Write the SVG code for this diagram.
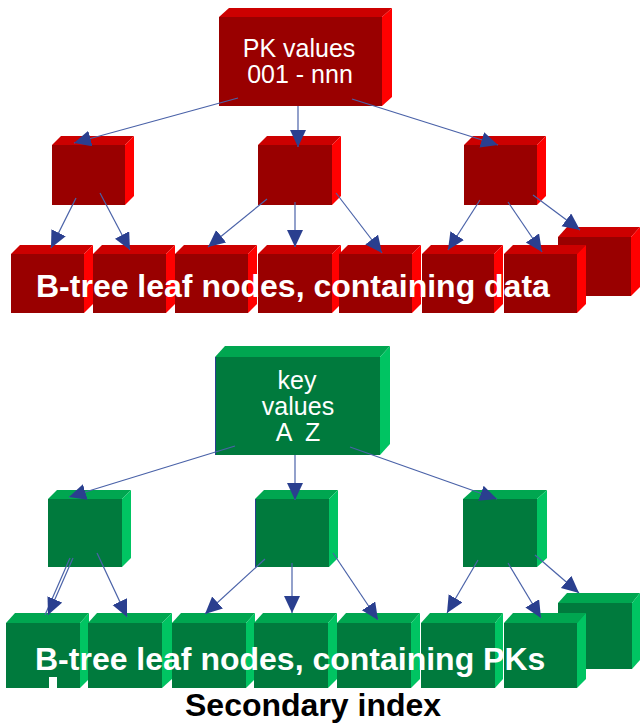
<svg xmlns="http://www.w3.org/2000/svg" width="640" height="723" viewBox="0 0 640 723">
  <style>
    .r-front { fill: #990000; }
    .r-top { fill: #cc0000; }
    .r-side { fill: #ff0000; }
    .g-front { fill: #007a3d; }
    .g-top { fill: #00a650; }
    .g-side { fill: #00c462; }
    .edge { stroke: #2a3f8f; stroke-width: 1; }
    .conn line { stroke: #4a62a8; stroke-width: 1.2; fill: none; marker-end: url(#arrow); }
    .label { font-family: "Liberation Sans", Arial, sans-serif; fill: #ffffff; }
    .box { font-size: 25px; text-anchor: middle; }
    .leaf-text { font-size: 32px; font-weight: bold; }
    .caption { font-family: "Liberation Sans", Arial, sans-serif; font-size: 32px; font-weight: bold; fill: #000000; }
  </style>
  <defs>
    <marker id="arrow" markerUnits="userSpaceOnUse" markerWidth="18" markerHeight="17" refX="17" refY="8" orient="auto">
      <path d="M0,0 L17,8 L0,16 Z" fill="#2a3f8f"/>
    </marker>
  </defs>

  <rect width="640" height="723" fill="#ffffff"/>

  <!-- ===== Primary B-tree (red) ===== -->
  <g id="pk-root">
    <polygon class="r-top" points="219,17 229,8 392,8 382,17"/>
    <polygon class="r-side" points="382,17 392,8 392,97 382,106"/>
    <rect class="r-front" x="219" y="17" width="163" height="89"/>
    <text class="label box" x="299" y="57">PK values</text>
    <text class="label box" x="300" y="83">001 - nnn</text>
  </g>

  <g id="pk-inner-1">
    <polygon class="r-top" points="52,145 61,136 134,136 125,145"/>
    <polygon class="r-side" points="125,145 134,136 134,196 125,205"/>
    <rect class="r-front" x="52" y="145" width="73" height="60"/>
  </g>
  <g id="pk-inner-2">
    <polygon class="r-top" points="258,145 267,136 341,136 332,145"/>
    <polygon class="r-side" points="332,145 341,136 341,196 332,205"/>
    <rect class="r-front" x="258" y="145" width="74" height="60"/>
  </g>
  <g id="pk-inner-3">
    <polygon class="r-top" points="464,145 473,136 546,136 537,145"/>
    <polygon class="r-side" points="537,145 546,136 546,196 537,205"/>
    <rect class="r-front" x="464" y="145" width="73" height="60"/>
  </g>

  <g id="pk-leaf-8">
    <polygon class="r-top" points="558,237 567,227 640,227 631,237"/>
    <polygon class="r-side" points="631,237 640,227 640,287 631,296"/>
    <rect class="r-front" x="558" y="237" width="73" height="59"/>
  </g>
  <g id="pk-leaf-1">
    <polygon class="r-top" points="11,254 20,245 93,245 84,254"/>
    <polygon class="r-side" points="84,254 93,245 93,304 84,313"/>
    <rect class="r-front" x="11" y="254" width="73" height="59"/>
  </g>
  <g id="pk-leaf-2">
    <polygon class="r-top" points="93,254 102,245 175,245 166,254"/>
    <polygon class="r-side" points="166,254 175,245 175,304 166,313"/>
    <rect class="r-front" x="93" y="254" width="73" height="59"/>
  </g>
  <g id="pk-leaf-3">
    <polygon class="r-top" points="175,254 184,245 257,245 248,254"/>
    <polygon class="r-side" points="248,254 257,245 257,304 248,313"/>
    <rect class="r-front" x="175" y="254" width="73" height="59"/>
  </g>
  <g id="pk-leaf-4">
    <polygon class="r-top" points="258,254 267,245 341,245 332,254"/>
    <polygon class="r-side" points="332,254 341,245 341,304 332,313"/>
    <rect class="r-front" x="258" y="254" width="74" height="59"/>
  </g>
  <g id="pk-leaf-5">
    <polygon class="r-top" points="339,254 348,245 421,245 412,254"/>
    <polygon class="r-side" points="412,254 421,245 421,304 412,313"/>
    <rect class="r-front" x="339" y="254" width="73" height="59"/>
  </g>
  <g id="pk-leaf-6">
    <polygon class="r-top" points="422,254 431,245 503,245 494,254"/>
    <polygon class="r-side" points="494,254 503,245 503,304 494,313"/>
    <rect class="r-front" x="422" y="254" width="72" height="59"/>
  </g>
  <g id="pk-leaf-7">
    <polygon class="r-top" points="504,254 513,245 586,245 577,254"/>
    <polygon class="r-side" points="577,254 586,245 586,304 577,313"/>
    <rect class="r-front" x="504" y="254" width="73" height="59"/>
  </g>

  <!-- ===== Secondary B-tree (green) ===== -->
  <g id="sk-root">
    <polygon class="g-top" points="215,357 225,346 390,346 380,357"/>
    <polygon class="g-side" points="380,357 390,346 390,444 380,455"/>
    <rect class="g-front" x="215" y="357" width="165" height="98"/>
    <line class="edge" x1="215.5" y1="357" x2="215.5" y2="455"/>
    <text class="label box" x="297" y="389">key</text>
    <text class="label box" x="298" y="415">values</text>
    <text class="label box" x="298" y="441" xml:space="preserve">A  Z</text>
  </g>

  <g id="sk-inner-1">
    <polygon class="g-top" points="48,499 57,490 131,490 122,499"/>
    <polygon class="g-side" points="122,499 131,490 131,558 122,567"/>
    <rect class="g-front" x="48" y="499" width="74" height="68"/>
  </g>
  <g id="sk-inner-2">
    <polygon class="g-top" points="255,499 264,490 338,490 329,499"/>
    <polygon class="g-side" points="329,499 338,490 338,558 329,567"/>
    <rect class="g-front" x="255" y="499" width="74" height="68"/>
    <line class="edge" x1="255.5" y1="499" x2="255.5" y2="567"/>
  </g>
  <g id="sk-inner-3">
    <polygon class="g-top" points="463,499 473,490 547,490 537,499"/>
    <polygon class="g-side" points="537,499 547,490 547,558 537,567"/>
    <rect class="g-front" x="463" y="499" width="74" height="68"/>
  </g>

  <g id="sk-leaf-8">
    <polygon class="g-top" points="558,603 567,593 640,593 632,603"/>
    <polygon class="g-side" points="632,603 640,593 640,660 632,669"/>
    <rect class="g-front" x="558" y="603" width="74" height="66"/>
  </g>
  <g id="sk-leaf-1">
    <polygon class="g-top" points="6,623 15,613 89,613 80,623"/>
    <polygon class="g-side" points="80,623 89,613 89,679 80,688"/>
    <rect class="g-front" x="6" y="623" width="74" height="65"/>
    <rect x="49" y="677" width="8" height="12" fill="#ffffff"/>
  </g>
  <g id="sk-leaf-2">
    <polygon class="g-top" points="88,623 97,613 172,613 162,623"/>
    <polygon class="g-side" points="162,623 172,613 172,679 162,688"/>
    <rect class="g-front" x="88" y="623" width="74" height="65"/>
  </g>
  <g id="sk-leaf-3">
    <polygon class="g-top" points="172,623 181,613 255,613 246,623"/>
    <polygon class="g-side" points="246,623 255,613 255,679 246,688"/>
    <rect class="g-front" x="172" y="623" width="74" height="65"/>
  </g>
  <g id="sk-leaf-4">
    <polygon class="g-top" points="254,623 263,613 337,613 328,623"/>
    <polygon class="g-side" points="328,623 337,613 337,679 328,688"/>
    <rect class="g-front" x="254" y="623" width="74" height="65"/>
  </g>
  <g id="sk-leaf-5">
    <polygon class="g-top" points="337,623 346,613 420,613 411,623"/>
    <polygon class="g-side" points="411,623 420,613 420,679 411,688"/>
    <rect class="g-front" x="337" y="623" width="74" height="65"/>
  </g>
  <g id="sk-leaf-6">
    <polygon class="g-top" points="421,623 430,613 503,613 495,623"/>
    <polygon class="g-side" points="495,623 503,613 503,679 495,688"/>
    <rect class="g-front" x="421" y="623" width="74" height="65"/>
  </g>
  <g id="sk-leaf-7">
    <polygon class="g-top" points="504,623 513,613 586,613 577,623"/>
    <polygon class="g-side" points="577,623 586,613 586,679 577,688"/>
    <rect class="g-front" x="504" y="623" width="73" height="65"/>
  </g>

  <!-- ===== Connectors ===== -->
  <g id="connectors" class="conn">
    <!-- primary tree -->
    <line x1="238" y1="98" x2="74" y2="143"/>
    <line x1="298" y1="106" x2="298" y2="147"/>
    <line x1="352" y1="99" x2="498" y2="145"/>
    <line x1="76" y1="198" x2="51" y2="248"/>
    <line x1="100" y1="193" x2="130" y2="250"/>
    <line x1="267" y1="199" x2="208" y2="247"/>
    <line x1="295" y1="202" x2="295" y2="247"/>
    <line x1="336" y1="193" x2="382" y2="253"/>
    <line x1="480" y1="200" x2="448" y2="250"/>
    <line x1="508" y1="202" x2="542" y2="252"/>
    <line x1="533" y1="195" x2="580" y2="230"/>
    <!-- secondary tree -->
    <line x1="235" y1="446" x2="69" y2="497"/>
    <line x1="295" y1="455" x2="295" y2="500"/>
    <line x1="350" y1="447" x2="497" y2="499"/>
    <line x1="70" y1="558" x2="45" y2="615" style="marker-end:none"/>
    <line x1="73" y1="558" x2="48" y2="615"/>
    <line x1="97" y1="553" x2="127" y2="617"/>
    <line x1="265" y1="559" x2="205" y2="614"/>
    <line x1="292" y1="563" x2="292" y2="613"/>
    <line x1="333" y1="553" x2="378" y2="620"/>
    <line x1="478" y1="560" x2="447" y2="613"/>
    <line x1="508" y1="563" x2="541" y2="618"/>
    <line x1="535" y1="555" x2="579" y2="593"/>
  </g>

  <!-- ===== Captions ===== -->
  <text class="label leaf-text" x="36" y="297">B-tree leaf nodes, containing data</text>
  <text class="label leaf-text" x="35" y="670">B-tree leaf nodes, containing PKs</text>
  <text class="caption" x="185" y="716">Secondary index</text>
</svg>
